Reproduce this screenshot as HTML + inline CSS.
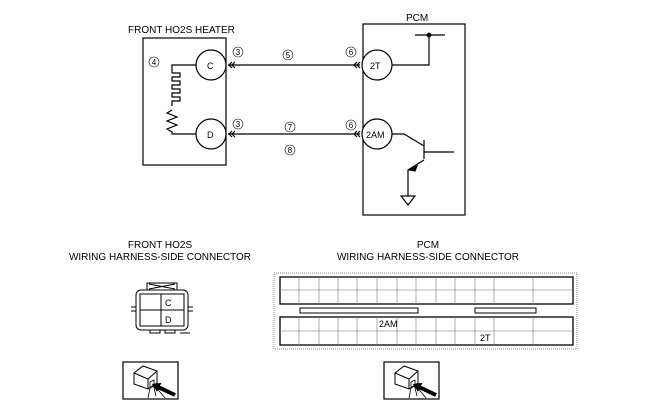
<!DOCTYPE html><html><head><style>body{margin:0;background:#fff}svg{display:block}text{font-family:"Liberation Sans",sans-serif;fill:#000}</style></head><body>
<svg width="645" height="408" viewBox="0 0 645 408" xmlns="http://www.w3.org/2000/svg">
<defs><g id="ico">
<rect x="0" y="0" width="55" height="37" fill="none" stroke="#000" stroke-width="1.2"/>
<path d="M11 11l9-7 14 5v12l-9 6-14-5z M11 11l14 6 9-8 M25 17v10" fill="#fff" stroke="#000" stroke-width="1"/>
<path d="M27 20l4-2v6l-4 2z M30 22l3 12 M27 26l-2 10 M32 24l10 12" fill="none" stroke="#000" stroke-width="0.8"/>
<line x1="36" y1="25.4" x2="52" y2="33" stroke="#000" stroke-width="4"/>
<path d="M29 22L38.4 20.9L34 29.9z" fill="#000"/>
</g></defs>
<g stroke="#000" fill="none" stroke-width="1.2">
<rect x="143" y="38" width="83" height="127"/>
<rect x="363" y="24" width="102" height="191"/>
<circle cx="211" cy="65" r="15" fill="#fff"/>
<circle cx="211" cy="134" r="15" fill="#fff"/>
<circle cx="377" cy="65" r="15" fill="#fff"/>
<circle cx="377" cy="134" r="15" fill="#fff"/>
<line x1="228" y1="65" x2="360" y2="65"/>
<line x1="228" y1="134" x2="360" y2="134"/>
<path d="M232 62l-3 3 3 3M235 62l-3 3 3 3M357 62l-3 3 3 3M360 62l-3 3 3 3"/>
<path d="M232 131l-3 3 3 3M235 131l-3 3 3 3M357 131l-3 3 3 3M360 131l-3 3 3 3"/>
<path d="M196 65h-24v8 M172 73h8v4h-8v4h8v4h-8v4h8v4h-8v4h8v4h-8v5 M172 110l-5 3 10 4-10 4 10 4-10 4 5 3v2h24"/>
<path d="M392 65h37v-30 M415 35h30"/>
<circle cx="429" cy="35" r="1.8" fill="#000"/>
<path d="M392 134h12l20 12 M424 140v19 M424 152h30 M424 160l-16 10v26 M401 196h14l-7 9z"/>
<path d="M417 166l-8 4 6 1z" fill="#000"/>
</g>
<g font-size="10">
<text x="128" y="33">FRONT HO2S HEATER</text>
<text x="406" y="21">PCM</text>
<text x="207" y="69" font-size="9">C</text>
<text x="207" y="138" font-size="9">D</text>
<text x="370" y="69" font-size="9">2T</text>
<text x="366" y="138" font-size="9">2AM</text>
</g>
<g stroke="#000" stroke-width="0.6" fill="none"><circle cx="154" cy="62" r="5"/><circle cx="238" cy="52" r="5"/><circle cx="288" cy="55" r="5"/><circle cx="351" cy="52" r="5"/><circle cx="238" cy="124" r="5"/><circle cx="290" cy="127" r="5"/><circle cx="290" cy="150" r="5"/><circle cx="351" cy="125" r="5"/></g>
<g font-size="8" text-anchor="middle">
<text x="154" y="65">4</text><text x="238" y="55">3</text><text x="288" y="58">5</text><text x="351" y="55">6</text>
<text x="238" y="127">3</text><text x="290" y="130">7</text><text x="290" y="153">8</text><text x="351" y="128">6</text>
</g>
<g font-size="10" text-anchor="middle">
<text x="160" y="248">FRONT HO2S</text>
<text x="160" y="260">WIRING HARNESS-SIDE CONNECTOR</text>
<text x="428" y="248">PCM</text>
<text x="428" y="260">WIRING HARNESS-SIDE CONNECTOR</text>
</g>
<g stroke="#000" fill="none" stroke-width="1">
<rect x="147" y="283" width="30" height="7"/>
<path d="M149 284l26 5M149 289l26-5"/>
<rect x="136" y="290" width="52" height="40" rx="5"/>
<rect x="140" y="294" width="44" height="32"/>
<line x1="140" y1="310" x2="184" y2="310"/><line x1="161" y1="294" x2="161" y2="326"/>
<path d="M131 307h5M131 311h5M188 307h5M188 311h5M150 330v3h10v-3M165 330v3h10v-3M180 333h10"/>
<rect x="274" y="273" width="303" height="76" stroke="#888" stroke-dasharray="1 1"/>
<rect x="280" y="277" width="293" height="27" stroke-width="1.3"/>
<rect x="280" y="317" width="293" height="28" stroke-width="1.3"/>
<rect x="300" y="308" width="118" height="5"/><rect x="475" y="308" width="61" height="5"/>
</g>
<g stroke="#777" stroke-width="0.6">
<path d="M280 290h293M280 331h293 M299 277v27M319 277v27M338 277v27M357 277v27M377 277v27M397 277v27M416 277v27M436 277v27M455 277v27M475 277v27M494 277v27M533 277v27 M299 317v28M319 317v28M338 317v28M357 317v28M377 317v28M397 317v28M416 317v28M436 317v28M455 317v28M475 317v28M494 317v28M533 317v28"/>
</g>
<g font-size="9"><text x="165" y="306">C</text><text x="165" y="323">D</text><text x="379" y="327">2AM</text><text x="480" y="341">2T</text></g>
<use href="#ico" x="123" y="362"/>
<use href="#ico" x="384" y="362"/>
</svg></body></html>
